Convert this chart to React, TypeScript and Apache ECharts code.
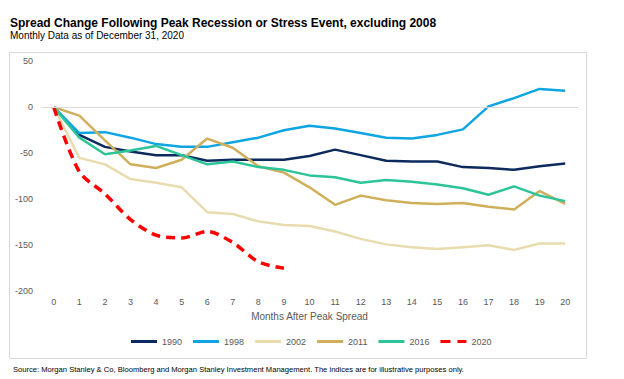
import React, { useEffect, useRef } from "react";
import * as echarts from "echarts";

const months = ["0","1","2","3","4","5","6","7","8","9","10","11","12","13","14","15","16","17","18","19","20"];
const yTicks = [50, 0, -50, -100, -150, -200];

const s1990 = [0,-30,-43,-48,-52,-52,-58,-57,-57,-57,-53,-46,-52,-58,-59,-59,-65,-66,-68,-64,-61];
const s1998 = [0,-28,-27,-33,-40,-43,-43,-38,-33,-25,-20,-23,-28,-33,-34,-30,-24,1,10,20,18];
const s2002 = [0,-55,-62,-78,-82,-87,-114,-116,-124,-128,-129,-135,-143,-149,-152,-154,-152,-150,-155,-148,-148];
const s2011 = [0,-9,-36,-62,-66,-57,-34,-44,-64,-71,-87,-106,-96,-101,-104,-105,-104,-108,-111,-91,-105];
const s2016 = [0,-33,-51,-47,-42,-52,-62,-59,-65,-68,-74,-76,-82,-79,-81,-84,-88,-95,-86,-96,-102];
const s2020 = [0,-70,-94,-122,-139,-142,-135,-147,-168,-175];

const FONT = "Liberation Sans, Arial, sans-serif";
const GRAY = "#595959";
const SOLID_ICON = "path://M0,0 L26,0 L26,3 L0,3 Z";
const DASH_ICON = "path://M0,0 L10,0 L10,3 L0,3 Z M17,0 L26,0 L26,3 L17,3 Z";

export default function App() {
  const ref = useRef<HTMLDivElement>(null);
  useEffect(() => {
    if (!ref.current) return;
    const chart = echarts.init(ref.current, null, { renderer: "svg" });
    const line = (name: string, data: number[], color: string) => ({
      name,
      type: "line",
      data,
      symbol: "none",
      smooth: false,
      lineStyle: { color, width: 2.5 },
      itemStyle: { color },
    });
    chart.setOption({
      animation: false,
      textStyle: { fontFamily: FONT },
      graphic: [
        {
          type: "rect",
          shape: { x: 9.5, y: 52.5, width: 577, height: 306 },
          style: { fill: "none", stroke: "#d9d9d9", lineWidth: 1 },
          silent: true,
        },
        {
          type: "text",
          left: 10,
          top: 17,
          style: {
            text: "Spread Change Following Peak Recession or Stress Event, excluding 2008",
            font: "bold 12px " + FONT,
            fill: "#000",
          },
        },
        {
          type: "text",
          left: 10,
          top: 30,
          style: {
            text: "Monthly Data as of December 31, 2020",
            font: "10px " + FONT,
            fill: "#000",
          },
        },
        {
          type: "text",
          left: 13,
          top: 365,
          style: {
            text: "Source: Morgan Stanley & Co, Bloomberg and Morgan Stanley Investment Management. The indices are for illustrative purposes only.",
            font: "7.6px " + FONT,
            fill: "#000",
          },
        },
      ],
      legend: {
        left: 131,
        top: 337,
        padding: 0,
        itemWidth: 26,
        itemHeight: 3,
        itemGap: 11,
        textStyle: { color: GRAY, fontSize: 9, fontFamily: FONT },
        data: [
          { name: "1990", icon: SOLID_ICON },
          { name: "1998", icon: SOLID_ICON },
          { name: "2002", icon: SOLID_ICON },
          { name: "2011", icon: SOLID_ICON },
          { name: "2016", icon: SOLID_ICON },
          { name: "2020", icon: DASH_ICON },
        ],
      },
      grid: { left: 41, right: 46, top: 61.3, bottom: 87.7 },
      xAxis: {
        type: "category",
        data: months,
        boundaryGap: true,
        axisLine: { show: false },
        axisTick: { show: false },
        axisLabel: { color: GRAY, fontSize: 9, margin: 6, fontFamily: FONT },
        name: "Months After Peak Spread",
        nameLocation: "middle",
        nameGap: 18,
        nameTextStyle: { color: GRAY, fontSize: 10, fontFamily: FONT },
      },
      yAxis: {
        type: "value",
        min: yTicks[yTicks.length - 1],
        max: yTicks[0],
        interval: 50,
        axisLine: { show: false },
        axisTick: { show: false },
        splitLine: { show: false },
        axisLabel: { color: GRAY, fontSize: 9, margin: 8, fontFamily: FONT },
      },
      series: [
        {
          ...line("1990", s1990, "#0c2a5e"),
          markLine: {
            silent: true,
            symbol: ["none", "none"],
            label: { show: false },
            lineStyle: { color: "#d9d9d9", type: "solid", width: 1 },
            data: [{ yAxis: 0 }],
          },
        },
        line("1998", s1998, "#0ea5e2"),
        line("2002", s2002, "#e8dcaf"),
        line("2011", s2011, "#cfaf5a"),
        line("2016", s2016, "#2ec49a"),
        {
          name: "2020",
          type: "line",
          data: s2020,
          symbol: "none",
          smooth: 0.3,
          lineStyle: { color: "#ff0000", width: 3.5, type: [9, 6] },
          itemStyle: { color: "#ff0000" },
        },
      ],
    });
    return () => chart.dispose();
  }, []);
  return (
    <div
      ref={ref}
      style={{ position: "fixed", left: 0, top: 0, width: 624, height: 379, background: "#fff" }}
    />
  );
}
